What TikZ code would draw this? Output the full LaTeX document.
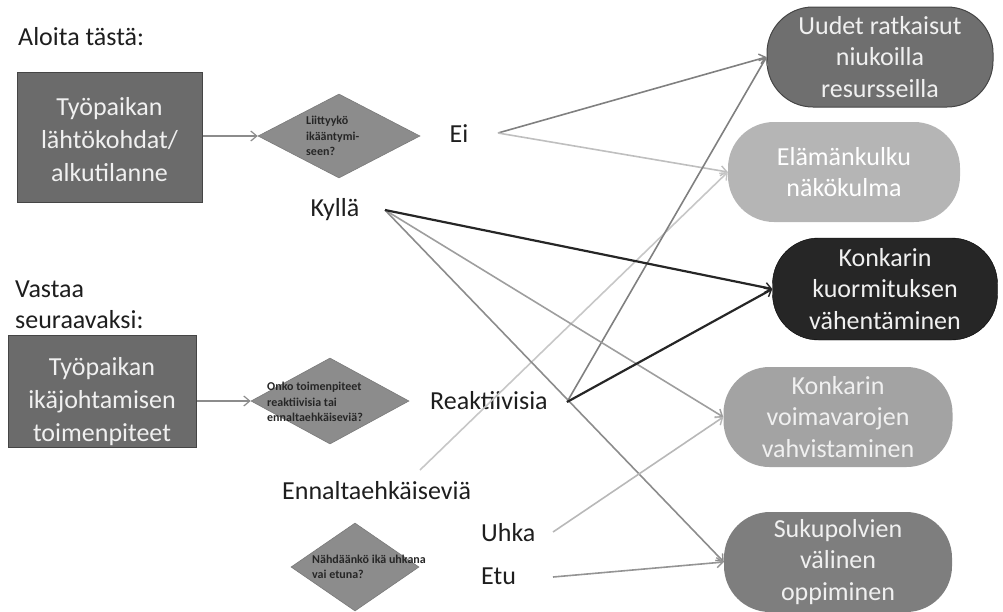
\documentclass[tikz,border=0pt]{standalone}
\usepackage{fontspec}
\setmainfont{Carlito}
\usetikzlibrary{arrows.meta,shapes.geometric}
\definecolor{boxgray}{HTML}{6B6B6B}
\definecolor{boxedge}{HTML}{454545}
\definecolor{diagray}{HTML}{8C8C8C}
\definecolor{diaedge}{HTML}{7A7A7A}
\definecolor{ronefill}{HTML}{6F6F6F}
\definecolor{rtwofill}{HTML}{B5B5B5}
\definecolor{rthreefill}{HTML}{262626}
\definecolor{rfourfill}{HTML}{A3A3A3}
\definecolor{rfivefill}{HTML}{7E7E7E}
\definecolor{boxtext}{HTML}{F0F0F0}
\definecolor{lbltext}{HTML}{1E1E1E}
\tikzset{
  lbl/.style={font=\fontsize{26}{32}\selectfont, text=lbltext, inner sep=0pt},
  sqbox/.style={draw=boxedge, line width=1pt, fill=boxgray, inner sep=0pt},
  boxtxt/.style={font=\fontsize{26}{33}\selectfont, text=boxtext, align=center, inner sep=0pt},
  dia/.style={diamond, draw=diaedge, line width=0.6pt, fill=diagray, inner sep=0pt},
  diatxt/.style={font=\fontsize{12}{15.5}\selectfont\bfseries, text=black!85, align=left, inner sep=0pt, anchor=west},
  rbox/.style={rectangle, rounded corners=46pt, minimum height=100pt, inner sep=0pt,
     font=\fontsize{26}{31.5}\selectfont, align=center, text=boxtext},
  conn/.style={line width=1.6pt, -{Straight Barb[length=6pt,width=10pt,line width=1.4pt]}},
}
\begin{document}
\begin{tikzpicture}[x=1pt,y=-1pt]
\useasboundingbox (0,0) rectangle (1003,611);

% left side
\node[lbl, anchor=west] (aloita) at (18,37) {Aloita tästä:};
\node[sqbox, minimum width=185pt, minimum height=130pt] (b1) at (109.5,137) {};
\node[boxtxt] (b1t) at (109.5,140) {Työpaikan\\lähtökohdat/\\alkutilanne};

\node[lbl, anchor=west, align=left, font=\fontsize{26}{31}\selectfont] (vastaa) at (15,305) {Vastaa\\seuraavaksi:};
\node[sqbox, minimum width=188pt, minimum height=112pt] (b2) at (102,391) {};
\node[boxtxt] (b2t) at (102,402) {Työpaikan\\ikäjohtamisen\\toimenpiteet};

% diamonds
\node[dia, minimum width=162pt, minimum height=84pt] (d1) at (339,136) {};
\node[diatxt] (d1t) at (306,136) {Liittyykö\\ikääntymi-\\seen?};
\node[dia, minimum width=158pt, minimum height=86pt] (d2) at (330,401) {};
\node[diatxt] (d2t) at (267,402) {Onko toimenpiteet\\reaktiivisia tai\\ennaltaehkäiseviä?};
\node[dia, minimum width=128pt, minimum height=88pt] (d3) at (355,567) {};
\node[diatxt] (d3t) at (312,567) {Nähdäänkö ikä uhkana\\vai etuna?};

\draw[line width=1.4pt, draw=gray!90, -{Straight Barb[length=6pt,width=10pt,line width=1.2pt]}] (b1.east |- d1.west) -- (d1.west);
\draw[line width=1.4pt, draw=gray!90, -{Straight Barb[length=6pt,width=10pt,line width=1.2pt]}] (b2.east |- d2.west) -- (d2.west);

% answer labels
\node[lbl] (ei) at (459,134) {Ei};
\node[lbl] (kylla) at (335,210) {Kyllä};
\node[lbl, anchor=west] (reak) at (430,401) {Reaktiivisia};
\node[lbl, anchor=west] (enn) at (282,491) {Ennaltaehkäiseviä};
\node[lbl, anchor=west] (uhka) at (481,533) {Uhka};
\node[lbl, anchor=west] (etu) at (481,576) {Etu};

% right boxes
\node[rbox, fill=ronefill, draw=boxedge, line width=1pt, minimum width=226pt] (r1) at (880,57) {Uudet ratkaisut\\niukoilla\\resursseilla};
\node[rbox, fill=rtwofill, minimum width=232pt, text=white] (r2) at (844,172) {Elämänkulku\\näkökulma};
\node[rbox, fill=rthreefill, draw=black, minimum width=225pt, minimum height=102pt] (r3) at (885,289) {Konkarin\\kuormituksen\\vähentäminen};
\node[rbox, fill=rfourfill, minimum width=229pt] (r4) at (838,417) {Konkarin\\voimavarojen\\vahvistaminen};
\node[rbox, fill=rfivefill, minimum width=228pt] (r5) at (838,562) {Sukupolvien\\välinen\\oppiminen};

% connector start points
\coordinate (eiout) at (498,133);
\coordinate (kyllaout) at (385,210);
\coordinate (reakout) at (567,402);
\coordinate (ennout) at (420,470);
\coordinate (uhkaout) at (553,532);
\coordinate (etuout) at (553,577);

% connectors
\draw[conn, draw=black!50] (eiout) -- (r1.west);
\draw[conn, draw=black!25] (eiout) -- (r2.west);
\draw[conn, draw=black!22] (ennout) -- (r2.west);
\draw[conn, draw=black!50] (reakout) -- (r1.west);
\draw[conn, draw=black!38] (kyllaout) -- (r4.west);
\draw[conn, draw=black!45] (kyllaout) -- (r5.west);
\draw[conn, draw=black!28] (uhkaout) -- (r4.west);
\draw[conn, draw=black!42] (etuout) -- (r5.west);
\draw[conn, draw=black!85, line width=2.2pt] (kyllaout) -- (r3.west);
\draw[conn, draw=black!85, line width=2.2pt] (reakout) -- (r3.west);
\end{tikzpicture}
\end{document}
